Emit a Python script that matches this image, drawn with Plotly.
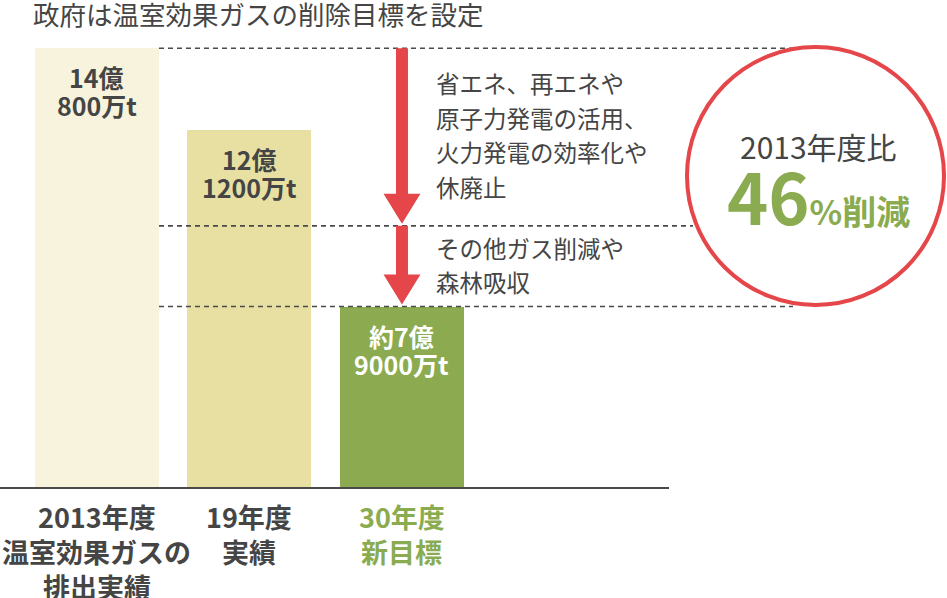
import plotly.graph_objects as go

W, H = 947, 598
FONT = "Noto Sans CJK JP"
DARK = "#454545"
GREEN = "#8aab4f"
RED = "#e5464a"

# --- data ---
title = "政府は温室効果ガスの削除目標を設定"
categories = [["2013年度", "温室効果ガスの", "排出実績"], ["19年度", "実績"], ["30年度", "新目標"]]
emissions = [14.08, 12.12, 7.9]  # 億t
bar_labels = [["14億", "800万t"], ["12億", "1200万t"], ["約7億", "9000万t"]]
bar_colors = ["#f7f3dc", "#e8e0a3", "#8cab50"]
mid_level = 9.83  # split between the two reduction steps
notes_energy = ["省エネ、再エネや", "原子力発電の活用、", "火力発電の効率化や", "休廃止"]
notes_other = ["その他ガス削減や", "森林吸収"]
circle_top = "2013年度比"
circle_pct = "46"

# --- geometry helpers (pixel -> paper) ---
PLOT_B = 488
def px(x):
    return x / W
def py(y):
    return (PLOT_B - y) / PLOT_B

y_lo, y_hi = 3.556, 15.236
bar_w = 0.813

fig = go.Figure()
fig.add_trace(go.Bar(
    x=[0, 1, 2], y=emissions, width=bar_w,
    marker=dict(color=bar_colors, line=dict(width=0)),
    hoverinfo="skip",
))

shapes = []
dash = dict(color="#4a4a4a", width=1.6, dash="5px,4px")
x_start = bar_w / 2
shapes.append(dict(type="line", xref="x", yref="y", x0=x_start, x1=4.564,
                   y0=emissions[0], y1=emissions[0], line=dash))
shapes.append(dict(type="line", xref="x", yref="y", x0=x_start, x1=3.908,
                   y0=mid_level, y1=mid_level, line=dash))
shapes.append(dict(type="line", xref="x", yref="y", x0=x_start, x1=4.564,
                   y0=emissions[2], y1=emissions[2], line=dash))

# baseline
shapes.append(dict(type="line", xref="paper", yref="paper", x0=0, x1=px(669),
                   y0=0, y1=0, line=dict(color="#4a4a4a", width=2.2)))

# arrows
def arrow(top, tip, xc=2):
    hs, hh, hl = 0.0393, 0.121, 0.718
    base = tip + hl
    return ("M{a},{t} L{b},{t} L{b},{bs} L{c},{bs} L{x},{tp} L{d},{bs} L{a},{bs} Z"
            .format(a=xc - hs, b=xc + hs, c=xc + hh, d=xc - hh, x=xc,
                    t=top, bs=base, tp=tip))

shapes.append(dict(type="path", xref="x", yref="y",
                   path=arrow(emissions[0], mid_level + 0.05),
                   fillcolor=RED, line=dict(width=0)))
shapes.append(dict(type="path", xref="x", yref="y",
                   path=arrow(mid_level, emissions[2] + 0.05),
                   fillcolor=RED, line=dict(width=0)))

# circle
shapes.append(dict(type="circle", xref="paper", yref="paper",
                   x0=px(687), x1=px(944), y0=py(305), y1=py(47),
                   fillcolor="white", line=dict(color=RED, width=4)))

annotations = []
annotations.append(dict(text=title, xref="paper", yref="paper", x=px(31), y=py(14),
                        xanchor="left", yanchor="middle", showarrow=False,
                        font=dict(family=FONT, size=26.5, color=DARK)))

for i, lines in enumerate(bar_labels):
    col = "white" if i == 2 else DARK
    for j, line in enumerate(lines):
        annotations.append(dict(text=line, x=i, y=emissions[i], xref="x", yref="y",
                                yanchor="middle", yshift=-(29 + 28 * j), showarrow=False,
                                font=dict(family=FONT, size=25, color=col, weight="bold")))

for i, lines in enumerate(categories):
    col = GREEN if i == 2 else DARK
    for j, line in enumerate(lines):
        annotations.append(dict(text=line, x=i, y=py(516 + 35 * j), xref="x", yref="paper",
                                yanchor="middle", showarrow=False,
                                font=dict(family=FONT, size=27, color=col, weight="bold")))

for j, line in enumerate(notes_energy):
    annotations.append(dict(text=line, xref="paper", yref="paper", x=px(434), y=py(83 + 34.7 * j),
                            xanchor="left", yanchor="middle", showarrow=False,
                            font=dict(family=FONT, size=23.5, color=DARK)))
for j, line in enumerate(notes_other):
    annotations.append(dict(text=line, xref="paper", yref="paper", x=px(434), y=py(248 + 34 * j),
                            xanchor="left", yanchor="middle", showarrow=False,
                            font=dict(family=FONT, size=23.5, color=DARK)))

annotations.append(dict(text=circle_top, xref="paper", yref="paper", x=px(818), y=py(146),
                        xanchor="center", yanchor="middle", showarrow=False,
                        font=dict(family=FONT, size=30, color=DARK)))
annotations.append(dict(text="<b>%s</b><span style='font-size:34px'><b>%%削減</b></span>" % circle_pct,
                        xref="paper", yref="paper", x=px(818), y=py(194),
                        xanchor="center", yanchor="middle", showarrow=False,
                        font=dict(family=FONT, size=70, color=GREEN)))

fig.update_layout(
    width=W, height=H,
    margin=dict(l=0, r=0, t=0, b=H - PLOT_B),
    paper_bgcolor="white", plot_bgcolor="white",
    showlegend=False,
    bargap=0,
    xaxis=dict(range=[-0.636, 5.574], showticklabels=False,
               showgrid=False, zeroline=False, showline=False, ticks="",
               fixedrange=True),
    yaxis=dict(range=[y_lo, y_hi], visible=False, fixedrange=True),
    shapes=shapes,
    annotations=annotations,
)

fig.write_html("out.html", config={"displayModeBar": False},
               post_script="document.body.style.margin='0px';")
